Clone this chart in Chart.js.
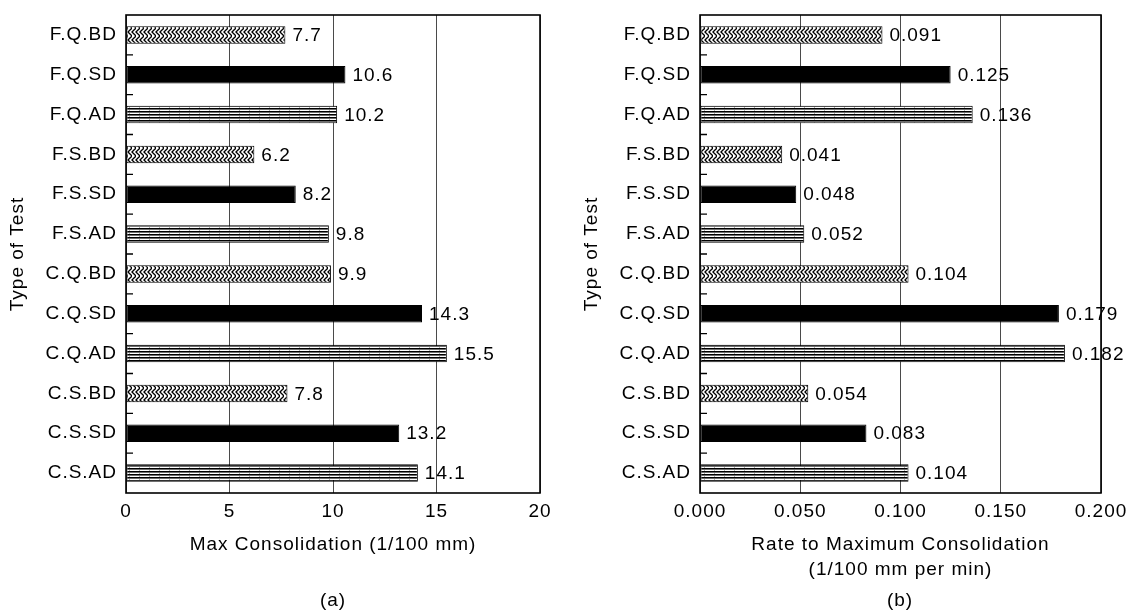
<!DOCTYPE html>
<html>
<head>
<meta charset="utf-8">
<script src="https://cdn.jsdelivr.net/npm/chart.js@4/dist/chart.umd.min.js"></script>
<style>
  html, body { margin: 0; padding: 0; background: #fff; }
  #wrap { position: relative; width: 1131px; height: 612px; overflow: hidden; }
  canvas { position: absolute; top: 0; }
  .cap { position: absolute; font: 19px "Liberation Sans", Arial, sans-serif; letter-spacing: 1px; color: #000; text-align: center; width: 100px; line-height: 20px; z-index: 2; }
</style>
</head>
<body>
<div id="wrap">
  <canvas id="cA" width="565" height="612" style="left:0"></canvas>
  <canvas id="cB" width="566" height="612" style="left:565px"></canvas>
  <div class="cap" style="left:283px; top:590px;">(a)</div>
  <div class="cap" style="left:850px; top:590px;">(b)</div>
</div>
<script>
// ---------------- DATA ----------------
const categories = ['F.Q.BD','F.Q.SD','F.Q.AD','F.S.BD','F.S.SD','F.S.AD',
                    'C.Q.BD','C.Q.SD','C.Q.AD','C.S.BD','C.S.SD','C.S.AD'];
const maxConsolidation = [7.7, 10.6, 10.2, 6.2, 8.2, 9.8, 9.9, 14.3, 15.5, 7.8, 13.2, 14.1];
const rateToMaxConsolidation = [0.091, 0.125, 0.136, 0.041, 0.048, 0.052, 0.104, 0.179, 0.182, 0.054, 0.083, 0.104];
const ticksA = ['0', '5', '10', '15', '20'];
const ticksB = ['0.000', '0.050', '0.100', '0.150', '0.200'];
const yTitle = 'Type of Test';
const xTitleA = 'Max Consolidation (1/100 mm)';
const xTitleB = ['Rate to Maximum Consolidation', '(1/100 mm per min)'];

// ---------------- STYLE ----------------
const FONT = '"Liberation Sans", Arial, Helvetica, sans-serif';
const FS = 19;

function makePattern(kind) {
  const c = document.createElement('canvas');
  const g = c.getContext('2d');
  if (kind === 'AD') {
    c.width = 10; c.height = 3;
    g.fillStyle = '#000'; g.fillRect(0, 0, 10, 1);
    g.fillStyle = '#6e6e6e'; g.fillRect(0, 1, 10, 1);
    g.fillStyle = '#ffffff'; g.fillRect(0, 2, 10, 1);
    g.fillStyle = '#b0b0b0'; g.fillRect(9, 2, 1, 1);
  } else {
    c.width = 4; c.height = 8;
    g.fillStyle = '#fff'; g.fillRect(0, 0, 4, 8);
    g.strokeStyle = '#000'; g.lineWidth = 1.3;
    g.beginPath();
    g.moveTo(-1, -1); g.lineTo(4, 4); g.lineTo(-1, 9);
    g.moveTo(3, -1); g.lineTo(8, 4); g.lineTo(3, 9);
    g.stroke();
  }
  return g.createPattern(c, 'repeat');
}
const patAD = makePattern('AD');
const patBD = makePattern('BD');
function fillFor(cat) {
  if (cat.endsWith('SD')) return '#000';
  if (cat.endsWith('AD')) return patAD;
  return patBD;
}

const spacingPlugin = {
  id: 'spacing',
  beforeUpdate(chart) { chart.ctx.letterSpacing = '1px'; },
  beforeDraw(chart) { chart.ctx.letterSpacing = '1px'; }
};

const framePlugin = {
  id: 'frame',
  afterDraw(chart, args, opts) {
    const ctx = chart.ctx;
    const a = chart.chartArea;
    const ys = chart.scales.y;
    ctx.save();
    ctx.strokeStyle = '#000';
    // inner ticks at category boundaries
    ctx.lineWidth = 1.3;
    ctx.beginPath();
    for (let i = 0; i < categories.length - 1; i++) {
      const yy = (ys.getPixelForValue(i) + ys.getPixelForValue(i + 1)) / 2;
      ctx.moveTo(a.left, yy);
      ctx.lineTo(a.left + 7, yy);
    }
    ctx.stroke();
    // box
    ctx.lineWidth = 1.6;
    ctx.strokeRect(a.left, a.top, a.right - a.left, a.bottom - a.top);
    // value labels
    ctx.letterSpacing = '1px';
    ctx.fillStyle = '#000';
    ctx.font = FS + 'px ' + FONT;
    ctx.textBaseline = 'middle';
    ctx.textAlign = 'left';
    const meta = chart.getDatasetMeta(0);
    const vals = chart.data.datasets[0].data;
    meta.data.forEach((el, i) => {
      ctx.fillText(vals[i].toFixed(opts.decimals), el.x + 7, el.y + 1);
    });
    ctx.restore();
  }
};

function build(id, values, tickLabels, max, step, xTitle, yAxisWidth, titleXPadTop, xTitlePadBottom, decimals, padRight) {
  return new Chart(document.getElementById(id), {
    type: 'bar',
    data: {
      labels: categories,
      datasets: [{
        data: values,
        backgroundColor: categories.map(fillFor),
        borderColor: '#000',
        borderWidth: 1,
        borderSkipped: false,
        barPercentage: 0.44,
        categoryPercentage: 1.0
      }]
    },
    options: {
      indexAxis: 'y',
      responsive: false,
      animation: false,
      devicePixelRatio: 1,
      layout: { padding: { top: 15, left: 0, right: padRight, bottom: 0 } },
      plugins: {
        legend: { display: false },
        tooltip: { enabled: false },
        title: { display: false },
        frame: { decimals: decimals }
      },
      scales: {
        x: {
          type: 'linear',
          min: 0, max: max,
          afterFit(s) { s.height = 612 - 493; s.paddingLeft = 0; s.paddingRight = 0; },
          grid: { color: '#4a4a4a', lineWidth: 1, drawTicks: false },
          border: { display: false },
          ticks: {
            stepSize: step,
            padding: 7,
            color: '#000',
            font: { family: FONT, size: FS },
            callback: (v, i) => tickLabels[i]
          },
          title: {
            display: true,
            text: xTitle,
            color: '#000',
            font: { family: FONT, size: FS, lineHeight: 25 / FS },
            padding: { top: 0, bottom: xTitlePadBottom }
          }
        },
        y: {
          afterFit(s) { s.width = yAxisWidth; s.paddingTop = 0; s.paddingBottom = 0; },
          grid: { display: false, drawTicks: false },
          border: { display: false },
          ticks: {
            padding: 9,
            color: '#000',
            font: { family: FONT, size: FS },
            autoSkip: false
          },
          title: {
            display: true,
            text: yTitle,
            color: '#000',
            font: { family: FONT, size: FS, lineHeight: 25 / FS },
            padding: { top: titleXPadTop, bottom: 0 }
          }
        }
      }
    },
    plugins: [spacingPlugin, framePlugin]
  });
}

build('cA', maxConsolidation, ticksA, 20, 5, xTitleA, 126, 5.5, 54.5, 1, 25);
build('cB', rateToMaxConsolidation, ticksB, 0.2, 0.05, xTitleB, 135, 14.5, 29.5, 3, 30);
</script>
</body>
</html>
